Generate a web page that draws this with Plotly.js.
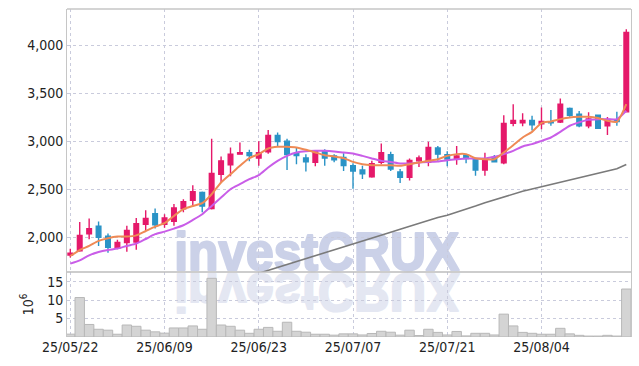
<!DOCTYPE html>
<html>
<head>
<meta charset="utf-8">
<script src="https://cdn.plot.ly/plotly-3.0.1.min.js"></script>
<style>
html,body{margin:0;padding:0;background:#fff;}
#chart{width:639px;height:366px;}
</style>
</head>
<body>
<div id="chart"></div>
<script>
const dates = ["25/05/22","25/05/23","25/05/26","25/05/27","25/05/28","25/05/29","25/05/30","25/06/02","25/06/04","25/06/05",
"25/06/09","25/06/10","25/06/11","25/06/12","25/06/13","25/06/16","25/06/17","25/06/18","25/06/19","25/06/20",
"25/06/23","25/06/24","25/06/25","25/06/26","25/06/27","25/06/30","25/07/01","25/07/02","25/07/03","25/07/04",
"25/07/07","25/07/08","25/07/09","25/07/10","25/07/11","25/07/14","25/07/15","25/07/16","25/07/17","25/07/18",
"25/07/21","25/07/22","25/07/23","25/07/24","25/07/25","25/07/28","25/07/29","25/07/30","25/07/31","25/08/01",
"25/08/04","25/08/05","25/08/06","25/08/07","25/08/08","25/08/11","25/08/12","25/08/13","25/08/14","25/08/18"];

const openP  = [1815,1860,2035,2115,2010,1885,1945,1950,2135,2245, 2135,2165,2295,2385,2465,2300,2655,2755,2865,2880,
                2825,2890,3060,3000,2870,2825,2780,2895,2845,2830, 2745,2700,2630,2780,2860,2680,2625,2795,2780,2930,
                2860,2815,2855,2810,2700,2830,2775,3185,3190,3215, 3180,3200,3200,3340,3280,3160,3270,3160,3220,3305];
const highP  = [1880,2160,2195,2165,2040,1975,2120,2200,2280,2300, 2240,2345,2395,2540,2475,3025,2840,2935,2985,2910,
                3000,3115,3090,3025,2935,2865,2900,2915,2865,2875, 2770,2745,2795,2975,2890,2710,2820,2850,2995,2950,
                2895,2950,2865,2815,2880,2855,3270,3385,3290,3265, 3350,3325,3445,3350,3315,3300,3275,3250,3305,4165];
const lowP   = [1790,1850,1980,1910,1840,1875,1850,1870,2070,2090, 2100,2120,2260,2320,2260,2290,2570,2635,2860,2790,
                2745,2870,2950,2700,2760,2685,2740,2745,2780,2690, 2505,2605,2620,2760,2690,2565,2590,2730,2740,2795,
                2740,2755,2770,2640,2640,2780,2760,3155,3155,3110, 3125,3160,3190,3255,3145,3135,3130,3065,3160,3300];
const closeP = [1835,2020,2090,2000,1895,1945,2070,2140,2195,2130, 2200,2305,2370,2475,2325,2665,2795,2865,2880,2850,
                2880,3060,2995,2860,2850,2785,2890,2825,2805,2745, 2690,2660,2765,2880,2710,2625,2800,2825,2935,2865,
                2815,2845,2820,2700,2810,2785,3185,3215,3215,3170, 3205,3190,3385,3270,3160,3230,3135,3225,3205,4130];

const ma5  = [1805,1867,1910,1962,1990,2007,2007,2020,2065,2110, 2146,2222,2292,2326,2354,2448,2570,2656,2743,2823,
              2865,2924,2941,2941,2934,2910,2882,2854,2840,2823, 2784,2760,2750,2750,2750,2743,2760,2778,2795,2812,
              2847,2865,2865,2823,2812,2812,2882,2958,3038,3097, 3188,3205,3229,3247,3253,3253,3240,3212,3201,3385];
const ma20 = [1726,1760,1812,1847,1868,1882,1910,1934,1982,2032, 2059,2090,2125,2180,2240,2326,2413,2500,2552,2604,
              2646,2726,2795,2847,2882,2896,2899,2899,2893,2882, 2872,2847,2820,2795,2784,2768,2768,2778,2784,2788,
              2802,2812,2820,2820,2820,2837,2865,2899,2945,2969, 3003,3038,3097,3160,3195,3222,3229,3229,3229,3316];
const ma60 = [null,null,null,null,null,null,null,null,null,null, null,null,null,null,null,null,null,null,null,null,
              1625,1655,1684,1714,1745,1776,1807,1838,1869,1900, 1930,1961,1992,2022,2053,2084,2115,2146,2175,2205,
              2230,2260,2290,2325,2360,2390,2422,2452,2478,2503, 2527,2550,2575,2598,2622,2645,2668,2690,2712,2758];

const volume = [0.78,10.7,3.4,2.1,1.85,0.75,3.25,2.9,1.85,1.4, 1.05,2.45,2.45,3.0,2.1,15.9,3.25,2.9,1.85,1.0,
                2.1,2.6,1.55,4.0,1.55,1.3,0.75,0.75,0.5,0.85, 0.85,0.55,0.95,1.55,1.3,0.5,1.85,0.4,2.1,1.25,
                0.55,1.5,0.3,1.0,1.0,0.55,6.2,3.0,1.25,1.0, 0.75,0.75,2.35,0.85,0.45,0.25,0.25,0.45,0.25,13.0];

const priceTicks = [2000,2500,3000,3500,4000];
const volTicks = [5,10,15];
const dateTicks = [dates[0],dates[10],dates[20],dates[30],dates[40],dates[50]];

const UP = '#e5196a', DOWN = '#2a93c6';
const tickFont = {family:"'DejaVu Sans Condensed','DejaVu Sans',sans-serif", size:14, color:'#222'};
const gridC = '#c9cbdc', lineC = '#c6c6c6';
const wmMain = '#cbd1e8', wmRefl = '#e4e7f2';

const traces = [
  {type:'bar', x:dates, y:volume, xaxis:'x', yaxis:'y2',
   marker:{color:'#d4d4d4', line:{color:'#b8b8b8', width:1}}, hoverinfo:'skip'},
  {type:'scatter', mode:'lines', x:dates, y:ma60, xaxis:'x', yaxis:'y',
   line:{color:'#7a7a7a', width:1.6}, hoverinfo:'skip'},
  {type:'scatter', mode:'lines', x:dates, y:ma20, xaxis:'x', yaxis:'y',
   line:{color:'#c95de8', width:2, shape:'spline', smoothing:0.6}, hoverinfo:'skip'},
  {type:'scatter', mode:'lines', x:dates, y:ma5, xaxis:'x', yaxis:'y',
   line:{color:'#ef8a55', width:2, shape:'spline', smoothing:0.6}, hoverinfo:'skip'},
  {type:'candlestick', x:dates, open:openP, high:highP, low:lowP, close:closeP, xaxis:'x', yaxis:'y',
   increasing:{line:{color:UP, width:1.4}, fillcolor:UP},
   decreasing:{line:{color:DOWN, width:1.4}, fillcolor:DOWN},
   whiskerwidth:0, hoverinfo:'skip'}
];

const layout = {
  width:639, height:366,
  margin:{l:67, r:8, t:9, b:29},
  paper_bgcolor:'#fff', plot_bgcolor:'#fff',
  showlegend:false, bargap:0,
  xaxis:{type:'category', range:[-0.35,59.5], anchor:'y2', tickmode:'array', tickvals:dateTicks, ticktext:dateTicks,
         showgrid:true, gridcolor:gridC, griddash:'dot', gridwidth:1, zeroline:false, showline:false, ticks:'',
         tickfont:tickFont, rangeslider:{visible:false}, fixedrange:true},
  yaxis:{domain:[0.198,1], range:[1638,4375], tickmode:'array', tickvals:priceTicks, tickformat:',',
         showgrid:true, gridcolor:gridC, griddash:'dot', zeroline:false, showline:true, mirror:true,
         linecolor:lineC, ticks:'', tickfont:tickFont},
  yaxis2:{domain:[0,0.198], range:[0,17.6], tickmode:'array', tickvals:volTicks,
         showgrid:true, gridcolor:gridC, griddash:'dot', zeroline:false, showline:true, mirror:true,
         linecolor:lineC, ticks:'', tickfont:tickFont,
         title:{text:'10<sup>6</sup>', font:tickFont, standoff:10}},
  shapes:[
    {type:'line', xref:'paper', yref:'paper', x0:0, x1:1, y0:1, y1:1, line:{color:lineC, width:1.5}},
    {type:'line', xref:'paper', yref:'paper', x0:0, x1:1, y0:0.198, y1:0.198, line:{color:'#bdbdbd', width:1.5}}
  ],
  annotations:[
    {xref:'paper', yref:'paper', x:0.443, y:0.198, xanchor:'center', yanchor:'bottom', yshift:-11,
     text:'<b>investCRUX</b>', showarrow:false,
     font:{family:"'Liberation Sans',Arial,sans-serif", size:53, color:wmMain}},
    {xref:'paper', yref:'paper', x:0.443, y:0.198, xanchor:'center', yanchor:'top', yshift:11,
     text:'<b>investCRUX</b>', showarrow:false,
     font:{family:"'Liberation Sans',Arial,sans-serif", size:53, color:wmRefl}}
  ]
};

Plotly.newPlot('chart', traces, layout, {displayModeBar:false, staticPlot:true}).then(function(){
  try {
    const svg = document.querySelector('#chart .main-svg');
    const cl = svg.querySelector('.cartesianlayer');
    const anns = document.querySelectorAll('#chart .infolayer .annotation');
    anns.forEach(function(a, k){
      cl.parentNode.insertBefore(a, cl);
      const t = a.querySelector('text');
      if (t) {
        t.style.transformBox = 'fill-box';
        t.style.transformOrigin = 'center';
        t.style.transform = k === 1 ? 'scale(0.94,-1)' : 'scale(0.94,1)';
        t.style.stroke = k === 1 ? wmRefl : wmMain;
        t.style.strokeWidth = '2.2px';
        t.style.strokeLinejoin = 'round';
      }
    });
  } catch(e) {}
});
</script>
</body>
</html>
